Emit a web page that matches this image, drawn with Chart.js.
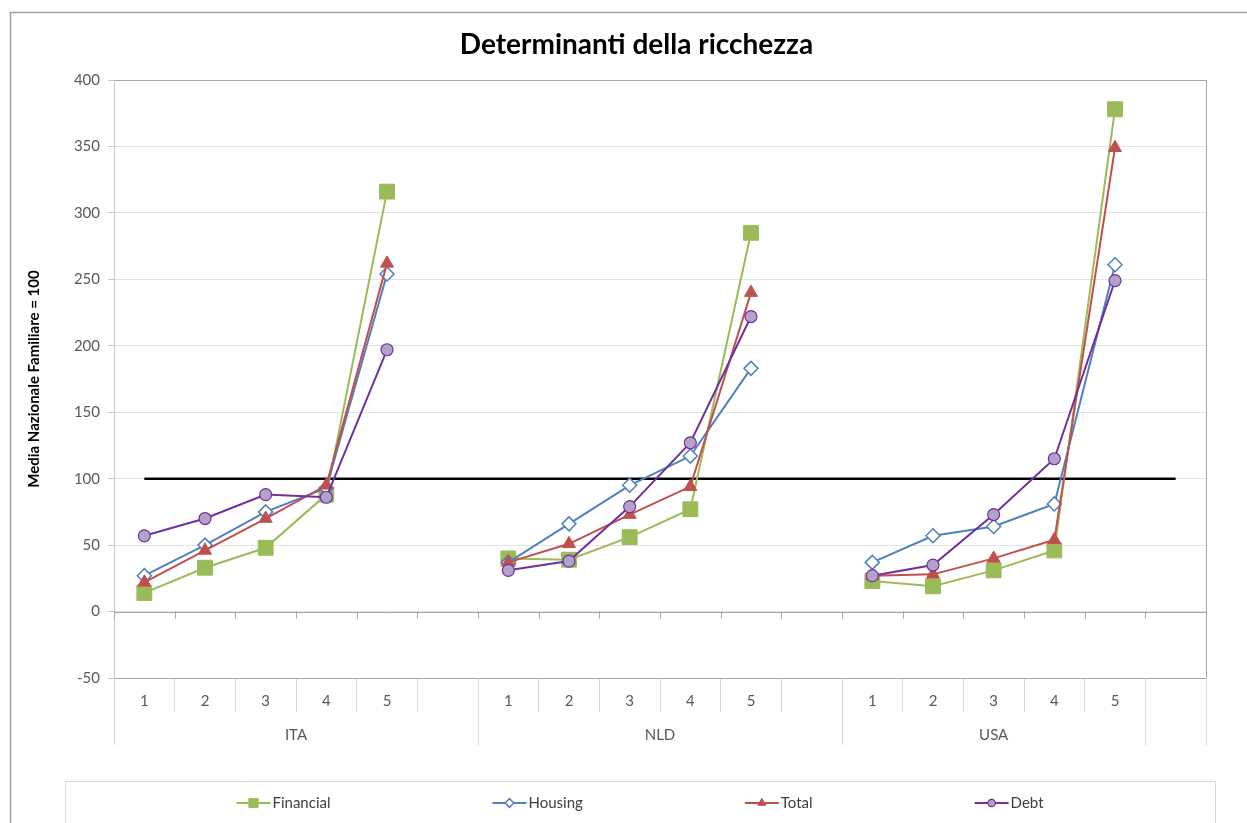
<!DOCTYPE html>
<html lang="it">
<head>
    <meta charset="UTF-8">
    <title>Determinanti della ricchezza</title>
    <script src="https://cdn.jsdelivr.net/npm/chart.js"></script>
    <style>
        body {
            margin: 0;
            background-color: #ffffff;
        }
        #wrap {
            width: 1247px;
            height: 823px;
        }
    </style>
</head>
<body>
    <div id="wrap">
        <canvas id="wealthChart" width="1247" height="823"></canvas>
    </div>
    <script>
        // quintiles, grouped by country (last slot has no group)
        const quintiles = ['1', '2', '3', '4', '5', '', '1', '2', '3', '4', '5', '', '1', '2', '3', '4', '5', ''];
        const countries = ['ITA', 'ITA', 'ITA', 'ITA', 'ITA', 'ITA', 'NLD', 'NLD', 'NLD', 'NLD', 'NLD', 'NLD', 'USA', 'USA', 'USA', 'USA', 'USA', ''];

        const financial = [14, 33, 48, 88, 316, null, 40, 39, 56, 77, 285, null, 23, 19, 31, 46, 378, null];
        const housing = [27, 50, 75, 93, 254, null, 37, 66, 95, 117, 183, null, 37, 57, 64, 81, 261, null];
        const total = [22, 46, 70, 95, 262, null, 37, 51, 73, 94, 240, null, 27, 28, 40, 54, 349, null];
        const debt = [57, 70, 88, 86, 197, null, 31, 38, 79, 127, 222, null, 27, 35, 73, 115, 249, null];
        const baseline = [100, 100, 100, 100, 100, 100, 100, 100, 100, 100, 100, 100, 100, 100, 100, 100, 100, 100];

        const yTicks = { min: -50, max: 400, step: 50 };

        const FONT = 'Lato, "Open Sans", sans-serif';

        // extra drawing: title, zero axis, country groups, legend box
        const decorations = {
            id: 'decorations',
            beforeDatasetsDraw(chart) {
                const { ctx, chartArea, scales } = chart;
                const y0 = scales.y.getPixelForValue(0);
                ctx.save();
                ctx.strokeStyle = '#a6a6a6';
                ctx.lineWidth = 1;
                ctx.beginPath();
                ctx.moveTo(chartArea.left, Math.round(y0) + 0.5);
                ctx.lineTo(chartArea.right, Math.round(y0) + 0.5);
                for (let i = 0; i <= quintiles.length; i++) {
                    const x = Math.round(scales.x.getPixelForValue(i - 0.5)) + 0.5;
                    ctx.moveTo(x, y0);
                    ctx.lineTo(x, y0 + 7);
                }
                // right edge of plot area
                ctx.moveTo(Math.round(chartArea.right) + 0.5, chartArea.top);
                ctx.lineTo(Math.round(chartArea.right) + 0.5, chartArea.bottom);
                ctx.stroke();
                ctx.restore();
            },
            afterDraw(chart) {
                const { ctx, chartArea, scales } = chart;
                const xs = scales.x;
                ctx.save();

                // outer chart frame
                ctx.strokeStyle = '#a0a0a0';
                ctx.lineWidth = 1.5;
                ctx.strokeRect(10.5, 12.5, chart.width + 20, chart.height + 20);

                // title
                ctx.fillStyle = '#000000';
                ctx.font = 'bold 28px ' + FONT;
                ctx.textAlign = 'center';
                ctx.textBaseline = 'middle';
                ctx.fillText('Determinanti della ricchezza', (10 + chart.width) / 2 + 8, 45);

                // country groups under the quintile labels
                const runs = [];
                countries.forEach((c, i) => {
                    const last = runs[runs.length - 1];
                    if (last && last.name === c) last.to = i;
                    else runs.push({ name: c, from: i, to: i });
                });
                ctx.strokeStyle = '#d9d9d9';
                ctx.lineWidth = 1;
                ctx.fillStyle = '#595959';
                ctx.font = '15px ' + FONT;
                const bottom = xs.bottom;
                runs.forEach((r, k) => {
                    const x1 = xs.getPixelForValue(r.from - 0.5);
                    const x2 = xs.getPixelForValue(r.to + 0.5);
                    ctx.beginPath();
                    if (k === 0) {
                        ctx.moveTo(Math.round(x1) + 0.5, chartArea.bottom);
                        ctx.lineTo(Math.round(x1) + 0.5, bottom);
                    }
                    ctx.moveTo(Math.round(x2) + 0.5, chartArea.bottom);
                    ctx.lineTo(Math.round(x2) + 0.5, bottom);
                    ctx.stroke();
                    if (r.name) {
                        ctx.fillText(r.name, (x1 + x2) / 2, chartArea.bottom + 57);
                    }
                });

                // legend box and entries
                const boxLeft = chartArea.left - 49;
                const boxRight = chartArea.right + 9;
                const boxTop = bottom + 36;
                ctx.strokeStyle = '#d9d9d9';
                ctx.strokeRect(boxLeft + 0.5, boxTop + 0.5, boxRight - boxLeft, 200);

                const items = chart.data.datasets.filter(d => d.label);
                const symW = 34, gap = 162;
                ctx.font = '15px ' + FONT;
                const widths = items.map(d => symW + 2 + ctx.measureText(d.label).width);
                const totalW = widths.reduce((a, b) => a + b, 0) + gap * (items.length - 1);
                let x = (boxLeft + boxRight) / 2 - totalW / 2;
                const ly = boxTop + 22;
                items.forEach((d, i) => {
                    ctx.strokeStyle = d.borderColor;
                    ctx.lineWidth = 2;
                    ctx.beginPath();
                    ctx.moveTo(x, ly);
                    ctx.lineTo(x + symW, ly);
                    ctx.stroke();
                    ctx.fillStyle = d.pointBackgroundColor;
                    ctx.strokeStyle = d.pointBorderColor;
                    ctx.lineWidth = d.pointBorderWidth;
                    Chart.helpers.drawPoint(ctx, {
                        pointStyle: d.pointStyle,
                        rotation: 0,
                        radius: d.pointRadius * 0.62,
                        borderWidth: d.pointBorderWidth
                    }, x + symW / 2, ly);
                    ctx.fillStyle = '#404040';
                    ctx.textAlign = 'left';
                    ctx.fillText(d.label, x + symW + 2, ly);
                    x += widths[i] + gap;
                });
                ctx.restore();
            }
        };

        const ctx = document.getElementById('wealthChart').getContext('2d');
        new Chart(ctx, {
            type: 'line',
            data: {
                labels: quintiles,
                datasets: [{
                    label: 'Financial',
                    data: financial,
                    borderColor: '#9bbb59',
                    borderWidth: 2,
                    pointStyle: 'rect',
                    pointRadius: 10.5,
                    pointBackgroundColor: '#9bbb59',
                    pointBorderColor: '#9bbb59',
                    pointBorderWidth: 1,
                    order: 4
                }, {
                    label: 'Housing',
                    data: housing,
                    borderColor: '#4f81bd',
                    borderWidth: 2,
                    pointStyle: 'rectRot',
                    pointRadius: 7,
                    pointBackgroundColor: '#ffffff',
                    pointBorderColor: '#4f81bd',
                    pointBorderWidth: 1.5,
                    order: 3
                }, {
                    label: 'Total',
                    data: total,
                    borderColor: '#c0504d',
                    borderWidth: 2,
                    pointStyle: 'triangle',
                    pointRadius: 7.5,
                    pointBackgroundColor: '#c0504d',
                    pointBorderColor: '#c0504d',
                    pointBorderWidth: 1,
                    order: 2
                }, {
                    label: 'Debt',
                    data: debt,
                    borderColor: '#7030a0',
                    borderWidth: 2,
                    pointStyle: 'circle',
                    pointRadius: 6,
                    pointBackgroundColor: '#b3a2c7',
                    pointBorderColor: '#7030a0',
                    pointBorderWidth: 1.2,
                    order: 1
                }, {
                    label: '',
                    data: baseline,
                    borderColor: '#000000',
                    borderWidth: 2.5,
                    pointRadius: 0,
                    order: 5
                }]
            },
            options: {
                responsive: false,
                animation: false,
                layout: {
                    padding: { top: 80, left: 18, right: 41, bottom: 78 }
                },
                plugins: {
                    legend: { display: false },
                    title: { display: false },
                    tooltip: { enabled: false }
                },
                elements: {
                    line: { tension: 0 }
                },
                scales: {
                    x: {
                        type: 'category',
                        offset: true,
                        grid: {
                            offset: true,
                            drawOnChartArea: false,
                            tickLength: 34,
                            color: '#d9d9d9'
                        },
                        border: { display: true, color: '#a6a6a6' },
                        ticks: {
                            autoSkip: false,
                            maxRotation: 0,
                            padding: -20,
                            color: '#595959',
                            font: { family: FONT, size: 15 }
                        },
                        afterFit: s => { s.height = 67; }
                    },
                    y: {
                        min: yTicks.min,
                        max: yTicks.max,
                        grid: {
                            color: c => (c.tick && c.tick.value === yTicks.max ? '#a6a6a6' : '#e3e3e3'),
                            tickColor: '#c8c8c8',
                            tickLength: 6
                        },
                        border: { color: '#c8c8c8' },
                        ticks: {
                            stepSize: yTicks.step,
                            padding: 8,
                            color: '#595959',
                            font: { family: FONT, size: 15 }
                        },
                        title: {
                            display: true,
                            text: 'Media Nazionale Familiare = 100',
                            color: '#000000',
                            font: { family: FONT, size: 15, weight: 'bold' },
                            padding: { top: 7, bottom: 0 }
                        },
                        afterFit: s => { s.width = 96; }
                    }
                }
            },
            plugins: [decorations]
        });
    </script>
</body>
</html>
